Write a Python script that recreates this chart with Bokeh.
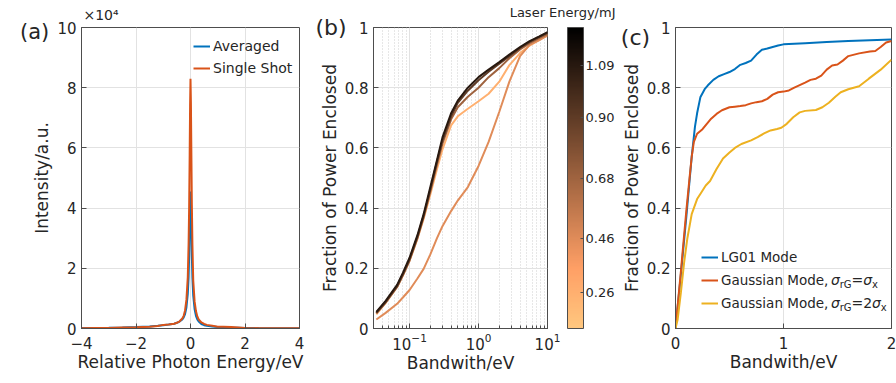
from bokeh.plotting import figure
from bokeh.models import (Range1d, ColorBar, LinearColorMapper, FixedTicker, Title,
                          PrintfTickFormatter, Label, Legend, LegendItem, ColumnDataSource)
from bokeh.layouts import row
from bokeh.transform import linear_cmap
from bokeh.embed import file_html
from bokeh.resources import INLINE

# ---------------- data ----------------
# (a) spectra
spec_x = [-4, -3.5, -3, -2.5, -2, -1.5, -1.2, -1.0, -0.8, -0.6,
          -0.5, -0.4, -0.3, -0.25, -0.2, -0.15, -0.1, -0.07, -0.05, -0.03,
          -0.015, 0, 0.015, 0.03, 0.05, 0.07, 0.1, 0.15, 0.2, 0.25,
          0.3, 0.4, 0.5, 0.6, 0.8, 1.0, 1.2, 1.5, 2, 2.5,
          3, 3.5, 4]
spec_avg = [150, 200, 250, 350, 500, 700, 900, 1100, 1300, 1600,
            1900, 2300, 3000, 3700, 4800, 7000, 11500, 17000, 24000, 33000,
            41000, 45500, 41500, 33500, 24000, 17000, 11000, 6500, 4200, 3000,
            2300, 1500, 1100, 900, 700, 500, 400, 300, 200, 150,
            120, 100, 80]
spec_single = [100, 150, 200, 300, 400, 600, 800, 1200, 1300, 1600,
               1900, 2400, 3300, 4200, 6000, 9500, 17000, 28000, 40000, 58000,
               74000, 83000, 75000, 60000, 41000, 28000, 16000, 9000, 5800, 4000,
               3000, 2000, 1500, 1200, 900, 600, 600, 500, 200, 100,
               80, 60, 50]
spec_yticks = [0, 20000, 40000, 60000, 80000, 100000]
spec_ytick_labels = ["0", "2", "4", "6", "8", "10"]

# (b) enclosed power vs bandwidth for several laser energies
bw_x = [0.033, 0.045, 0.066, 0.08, 0.1, 0.13, 0.16, 0.2, 0.25, 0.3,
        0.4, 0.5, 0.7, 1.0, 1.4, 2.0, 2.8, 4.0, 5.5, 7.5, 10]
laser_energy = [0.26, 0.46, 0.68, 0.90, 1.09]
frac_026 = [0.047, 0.085, 0.138, 0.176, 0.225, 0.298, 0.365, 0.445, 0.53, 0.595,
            0.675, 0.705, 0.73, 0.755, 0.78, 0.82, 0.875, 0.915, 0.94, 0.958, 0.977]
frac_046 = [0.03, 0.052, 0.082, 0.103, 0.128, 0.166, 0.198, 0.246, 0.30, 0.34,
            0.39, 0.425, 0.47, 0.54, 0.62, 0.72, 0.82, 0.905, 0.942, 0.957, 0.973]
frac_068 = [0.05, 0.086, 0.138, 0.177, 0.226, 0.30, 0.37, 0.455, 0.545, 0.615,
            0.695, 0.735, 0.77, 0.80, 0.835, 0.865, 0.898, 0.927, 0.948, 0.964, 0.978]
frac_090 = [0.052, 0.088, 0.141, 0.18, 0.23, 0.305, 0.375, 0.462, 0.555, 0.625,
            0.705, 0.75, 0.79, 0.825, 0.853, 0.88, 0.905, 0.932, 0.952, 0.968, 0.982]
frac_109 = [0.055, 0.092, 0.145, 0.185, 0.235, 0.31, 0.38, 0.47, 0.56, 0.635,
            0.715, 0.757, 0.80, 0.835, 0.86, 0.885, 0.91, 0.935, 0.955, 0.97, 0.985]
energy_ticks = [0.26, 0.46, 0.68, 0.90, 1.09]
energy_low, energy_high = 0.13, 1.23

# (c) modes
lg01_x = [0, 0.05, 0.1, 0.13, 0.15, 0.18, 0.2, 0.23, 0.27, 0.3, 0.35, 0.4, 0.45, 0.5,
          0.55, 0.6, 0.65, 0.7, 0.75, 0.8, 0.85, 0.9, 0.95, 1.0, 1.1, 1.2, 1.4, 1.6, 1.8, 2.0]
lg01_y = [0, 0.18, 0.37, 0.49, 0.57, 0.67, 0.715, 0.768, 0.795, 0.808, 0.826, 0.838, 0.845, 0.852,
          0.862, 0.876, 0.882, 0.890, 0.910, 0.926, 0.930, 0.935, 0.940, 0.944, 0.946, 0.948,
          0.952, 0.955, 0.958, 0.960]
gauss1_x = [0, 0.05, 0.1, 0.13, 0.15, 0.17, 0.2, 0.25, 0.29, 0.33, 0.38, 0.43, 0.5, 0.55, 0.6,
            0.65, 0.7, 0.75, 0.8, 0.85, 0.9, 0.95, 1.0, 1.05, 1.1, 1.2, 1.25, 1.3, 1.35, 1.4,
            1.45, 1.5, 1.55, 1.6, 1.7, 1.8, 1.85, 1.9, 1.95, 2.0]
gauss1_y = [0, 0.19, 0.39, 0.50, 0.57, 0.62, 0.647, 0.662, 0.68, 0.697, 0.713, 0.725, 0.735,
            0.737, 0.739, 0.742, 0.748, 0.752, 0.755, 0.763, 0.777, 0.785, 0.787, 0.791, 0.80,
            0.817, 0.826, 0.83, 0.84, 0.86, 0.874, 0.877, 0.89, 0.905, 0.914, 0.92, 0.922,
            0.935, 0.95, 0.955]
gauss2_x = [0, 0.02, 0.05, 0.08, 0.11, 0.15, 0.2, 0.23, 0.28, 0.32, 0.38, 0.44, 0.5, 0.55,
            0.61, 0.7, 0.76, 0.82, 0.88, 0.94, 0.98, 1.03, 1.09, 1.15, 1.2, 1.3, 1.36, 1.42,
            1.48, 1.53, 1.6, 1.7, 1.79, 1.9, 2.0]
gauss2_y = [0, 0.03, 0.12, 0.22, 0.30, 0.38, 0.43, 0.447, 0.475, 0.49, 0.53, 0.565, 0.585,
            0.60, 0.613, 0.625, 0.636, 0.648, 0.658, 0.663, 0.667, 0.68, 0.702, 0.718, 0.723,
            0.726, 0.735, 0.75, 0.77, 0.785, 0.795, 0.805, 0.83, 0.86, 0.893]
frac_ticks = [0, 0.2, 0.4, 0.6, 0.8, 1]
frac_tick_labels = ["0", "0.2", "0.4", "0.6", "0.8", "1"]

# ---------------- style ----------------
FONT = "DejaVu Sans"
TXT = "#262626"
AX = "#4d4d4d"
GRID = "#e2e2e2"
BLUE, ORANGE, YELLOW = "#0072BD", "#D95319", "#EDB120"


def copper_rev(n=256):
    pal = []
    for i in range(n):
        t = 1 - i / (n - 1)
        r = min(1.0, 1.25 * t)
        g = 0.7812 * t
        b = 0.4975 * t
        pal.append("#%02x%02x%02x" % (int(round(r * 255)), int(round(g * 255)), int(round(b * 255))))
    return pal


PAL = copper_rev()


def make_fig(w, left, right, **kw):
    p = figure(width=w, height=380, min_border_left=left, min_border_right=right,
               min_border_top=27, min_border_bottom=52, output_backend="svg",
               toolbar_location=None, **kw)
    p.outline_line_color = AX
    p.outline_line_width = 1
    p.background_fill_color = "white"
    p.border_fill_color = "white"
    for ax in list(p.xaxis) + list(p.yaxis):
        ax.axis_line_color = AX
        ax.major_tick_line_color = AX
        ax.minor_tick_line_color = AX
        ax.major_tick_in = 5
        ax.major_tick_out = 0
        ax.minor_tick_in = 0
        ax.minor_tick_out = 0
        ax.major_label_text_font = FONT
        ax.major_label_text_font_size = "15px"
        ax.major_label_text_color = TXT
        ax.axis_label_text_font = FONT
        ax.axis_label_text_font_size = "17px"
        ax.axis_label_text_font_style = "normal"
        ax.axis_label_text_color = TXT
    for ax in p.xaxis:
        ax.major_label_standoff = 8
        ax.axis_label_standoff = 0
    for ax in p.yaxis:
        ax.major_label_standoff = 5
        ax.axis_label_standoff = 2
    p.grid.grid_line_color = GRID
    return p


def text_label(x, y, text, size, align="left", baseline="middle", style="normal"):
    return Label(x=x, y=y, text=text, text_align=align, text_baseline=baseline,
                 text_font=FONT, text_font_size=size, text_font_style=style,
                 text_color=TXT)


# ---------------- (a) ----------------
pa = make_fig(305, 76, 6, x_range=Range1d(-4, 4), y_range=Range1d(0, 100000))
pa.xaxis.ticker = FixedTicker(ticks=[-4, -2, 0, 2, 4])
pa.yaxis.ticker = FixedTicker(ticks=spec_yticks)
pa.yaxis.major_label_overrides = dict(zip(spec_yticks, spec_ytick_labels))
pa.xaxis.axis_label = "Relative Photon Energy/eV"
pa.yaxis.axis_label = "Intensity/a.u."
ra1 = pa.line(spec_x, spec_avg, line_color=BLUE, line_width=2)
ra2 = pa.line(spec_x, spec_single, line_color=ORANGE, line_width=2)
leg_a = Legend(items=[LegendItem(label="Averaged", renderers=[ra1]),
                      LegendItem(label="Single Shot", renderers=[ra2])],
               location=(112, 250), padding=0, margin=0, spacing=2, glyph_width=17,
               glyph_height=20, label_standoff=3, label_text_font=FONT,
               label_text_font_size="14px", label_text_color=TXT,
               border_line_color=None, background_fill_alpha=0)
pa.add_layout(leg_a)
pa.add_layout(text_label(-5.184, 98670, "(a)", "21px", align="right"), "left")
pa.add_layout(text_label(-3.928, 104300, "\u00d710\u2074", "14px"), "above")

# ---------------- (b) ----------------
pb = make_fig(313, 68, 71, x_axis_type="log", x_range=Range1d(0.03, 10), y_range=Range1d(0, 1))
pb.yaxis.ticker = FixedTicker(ticks=frac_ticks)
pb.yaxis.major_label_overrides = dict(zip(frac_ticks, frac_tick_labels))
pb.xaxis.axis_label = "Bandwith/eV"
pb.yaxis.axis_label = "Fraction of Power Enclosed"
pb.xaxis.minor_tick_in = 3
pb.xaxis.major_label_standoff = 4
pb.xgrid.minor_grid_line_color = "#cfcfcf"
pb.xgrid.minor_grid_line_dash = "1 2"
src_b = ColumnDataSource(dict(
    xs=[bw_x] * 5,
    ys=[frac_026, frac_046, frac_068, frac_090, frac_109],
    energy=laser_energy))
pb.multi_line(xs="xs", ys="ys", source=src_b, line_width=2,
              line_color=linear_cmap("energy", PAL, energy_low, energy_high))
mapper = LinearColorMapper(palette=PAL, low=energy_low, high=energy_high)
cb = ColorBar(color_mapper=mapper, width=16, height=301, padding=0, margin=0,
              location=(20, 0), ticker=FixedTicker(ticks=energy_ticks),
              formatter=PrintfTickFormatter(format="%.2f"),
              major_label_text_font=FONT, major_label_text_font_size="13px",
              major_label_text_color=TXT, label_standoff=2,
              major_tick_line_color=AX, major_tick_in=3, major_tick_out=0,
              bar_line_color=AX, background_fill_alpha=0, border_line_color=None)
pb.add_layout(cb, "right")
pb.add_layout(Title(text="(b)", align="left", offset=-58, standoff=-25,
                    vertical_align="bottom", text_font=FONT, text_font_size="22px",
                    text_font_style="normal", text_color=TXT), "above")
pb.add_layout(text_label(96.8, 1.0498, "Laser Energy/mJ", "13px", align="right"), "above")

# ---------------- (c) ----------------
pc = make_fig(278, 52, 5, x_range=Range1d(0, 2), y_range=Range1d(0, 1))
pc.xaxis.ticker = FixedTicker(ticks=[0, 1, 2])
pc.yaxis.ticker = FixedTicker(ticks=frac_ticks)
pc.yaxis.major_label_overrides = dict(zip(frac_ticks, frac_tick_labels))
pc.xaxis.axis_label = "Bandwith/eV"
pc.yaxis.axis_label = "Fraction of Power Enclosed"
rc1 = pc.line(lg01_x, lg01_y, line_color=BLUE, line_width=2)
rc2 = pc.line(gauss1_x, gauss1_y, line_color=ORANGE, line_width=2)
rc3 = pc.line(gauss2_x, gauss2_y, line_color=YELLOW, line_width=2)
leg_c = Legend(items=[LegendItem(label="LG01 Mode", renderers=[rc1]),
                      LegendItem(label="Gaussian Mode,", renderers=[rc2]),
                      LegendItem(label="Gaussian Mode,", renderers=[rc3])],
               location=(26, 15), padding=0, margin=0, spacing=3, glyph_width=17,
               glyph_height=20, label_standoff=3, label_text_font=FONT,
               label_text_font_size="13.5px", label_text_color=TXT,
               border_line_color=None, background_fill_alpha=0)
pc.add_layout(leg_c)

# subscript pieces of the legend texts
sub_parts = [
    (1.4389, 0.1595, "\u03c3", "14px", "italic"),
    (1.5204, 0.1462, "rG", "10px", "normal"),
    (1.6290, 0.1595, "=", "14px", "normal"),
    (1.7376, 0.1595, "\u03c3", "14px", "italic"),
    (1.8190, 0.1462, "x", "10px", "normal"),
    (1.4389, 0.0831, "\u03c3", "14px", "italic"),
    (1.5204, 0.0698, "rG", "10px", "normal"),
    (1.6290, 0.0831, "=2", "14px", "normal"),
    (1.8190, 0.0831, "\u03c3", "14px", "italic"),
    (1.9005, 0.0698, "x", "10px", "normal"),
]
for sx, sy, st, ss, sfs in sub_parts:
    pc.add_layout(text_label(sx, sy, st, ss, style=sfs))
pc.add_layout(text_label(-0.2353, 0.9668, "(c)", "22px", align="right"), "above")

layout = row(pa, pb, pc)
open("out.html", "w").write(file_html(layout, INLINE))
